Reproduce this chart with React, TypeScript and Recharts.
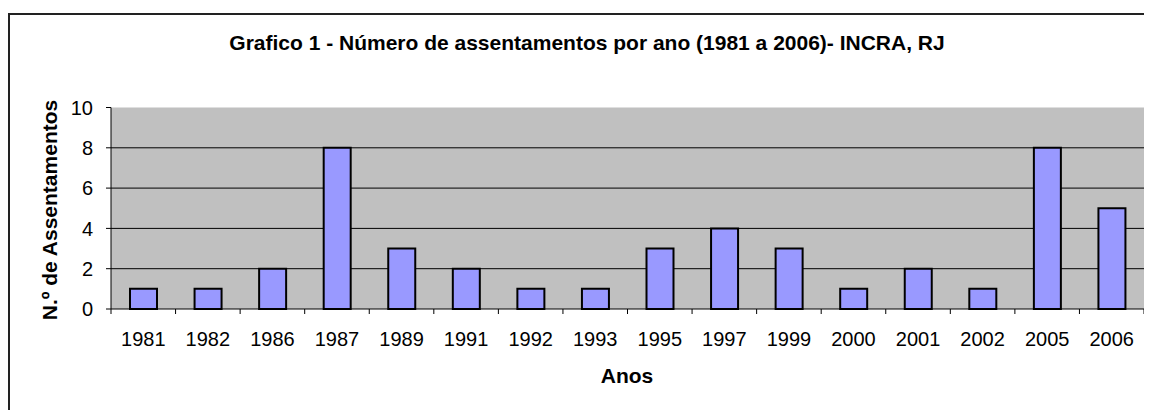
import { BarChart, Bar, XAxis, YAxis, CartesianGrid } from 'recharts'

const years = ['1981', '1982', '1986', '1987', '1989', '1991', '1992', '1993', '1995', '1997', '1999', '2000', '2001', '2002', '2005', '2006']
const assentamentos = [1, 1, 2, 8, 3, 2, 1, 1, 3, 4, 3, 1, 2, 1, 8, 5]
const yTicks = [0, 2, 4, 6, 8, 10]
const gridValues = [2, 4, 6, 8]

const data = years.map((y, i) => ({ ano: y, valor: assentamentos[i] }))

const font = 'Arial, "Liberation Sans", sans-serif'

const W = 1144
const M = { top: 99.5, right: 8, bottom: 61, left: 43 }
const Y_W = 60
const halfBand = (W - M.left - M.right - Y_W) / years.length / 2

// Excel style: tick marks between categories, labels in the middle
function YearTick(props: any) {
  const { x, y, payload, index } = props
  const axisY = y - 23
  return (
    <g>
      <line x1={x - halfBand} x2={x - halfBand} y1={axisY} y2={axisY + 5} stroke="#000" />
      {index === years.length - 1 && (
        <line x1={x + halfBand} x2={x + halfBand} y1={axisY} y2={axisY + 5} stroke="#000" />
      )}
      <text x={x} y={y} dy="0.71em" textAnchor="middle" fill="#000" fontSize={20} fontFamily={font}>
        {payload.value}
      </text>
    </g>
  )
}

export default function App() {
  return (
    <div style={{ position: 'relative', width: W, height: 402, fontFamily: font }}>
      <style>{'body{overflow:hidden}'}</style>
      <div style={{
        position: 'absolute', left: 0, top: 5, width: 1142, height: 400,
        borderLeft: '2px solid #222', borderTop: '2px solid #222'
      }} />
      <div style={{
        position: 'absolute', left: 179, top: 25, width: 800, textAlign: 'center',
        fontSize: 21, lineHeight: '20px', fontWeight: 'bold', color: '#000'
      }}>
        Grafico 1 - Número de assentamentos por ano (1981 a 2006)- INCRA, RJ
      </div>
      <div style={{
        position: 'absolute', left: -108, top: 192, width: 300, textAlign: 'center',
        fontSize: 21, lineHeight: '20px', fontWeight: 'bold', transform: 'rotate(-90deg)'
      }}>
        N.º de Assentamentos
      </div>
      <div style={{
        position: 'absolute', left: 419, top: 358, width: 400, textAlign: 'center',
        fontSize: 21, lineHeight: '20px', fontWeight: 'bold'
      }}>
        Anos
      </div>
      <div style={{ position: 'absolute', left: 0, top: 0 }}>
        <BarChart width={W} height={402} data={data} margin={M}>
          <CartesianGrid fill="#C0C0C0" vertical={false} horizontalValues={gridValues}
            stroke="#000" strokeOpacity={1} />
          <XAxis dataKey="ano" height={40} tickLine={false} tickSize={5} tickMargin={18}
            axisLine={{ stroke: '#000' }} interval={0} tick={<YearTick />} />
          <XAxis xAxisId="top" orientation="top" dataKey="ano" height={0} tick={false}
            tickLine={false} axisLine={{ stroke: '#808080', strokeWidth: 2 }} />
          <YAxis domain={[0, 10]} ticks={yTicks} width={Y_W} tickSize={5} tickMargin={13}
            axisLine={{ stroke: '#000' }} tickLine={{ stroke: '#000' }}
            tick={{ fill: '#000', fontSize: 20, fontFamily: font }} />
          <YAxis yAxisId="right" orientation="right" domain={[0, 10]} width={0} tick={false}
            tickLine={false} axisLine={{ stroke: '#808080', strokeWidth: 2 }} />
          <Bar dataKey="valor" fill="#9999FF" stroke="#000" strokeWidth={2} barSize={27}
            isAnimationActive={false} />
        </BarChart>
      </div>
    </div>
  )
}
